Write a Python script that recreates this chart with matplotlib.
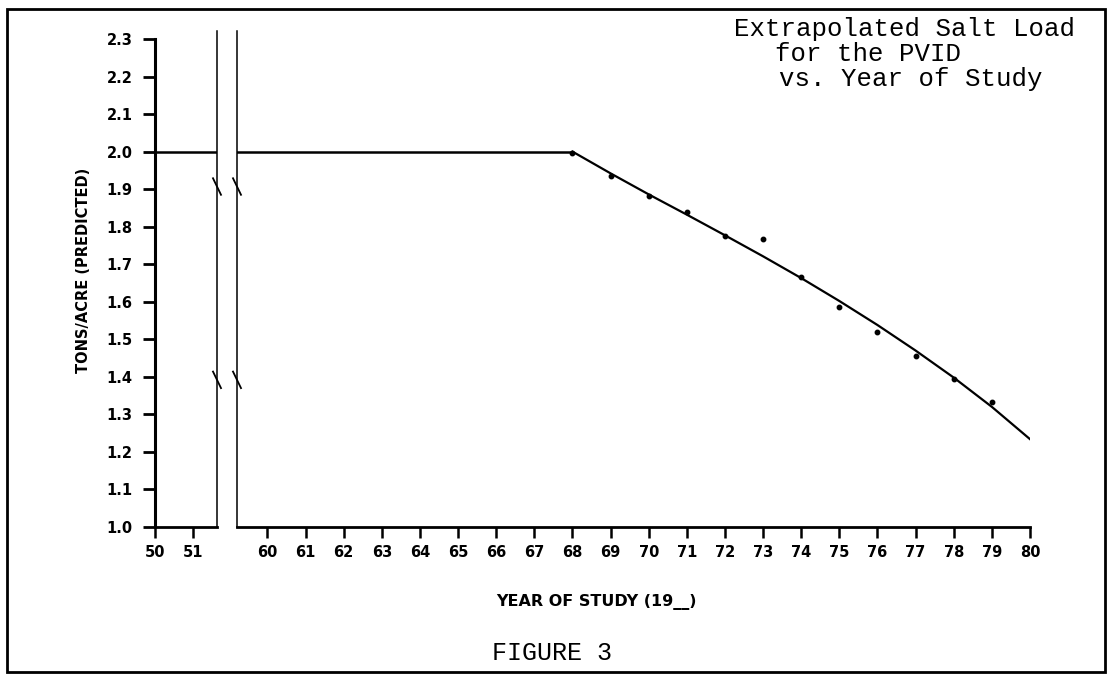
import numpy as np
import matplotlib
matplotlib.use("Agg")
import matplotlib.pyplot as plt
from matplotlib import transforms
from matplotlib.patches import Rectangle

# ---------------- data ----------------
flat_years = [50, 68]
flat_tons = [2.0, 2.0]

curve_years = [68, 69, 70, 71, 72, 73, 74, 75, 76, 77, 78, 79, 80]
curve_tons = [2.0, 1.942, 1.886, 1.832, 1.777, 1.721, 1.663, 1.602, 1.538, 1.470, 1.398, 1.320, 1.234]

obs_years = [68, 69, 70, 71, 72, 73, 74, 75, 76, 77, 78, 79]
obs_tons = [1.995, 1.935, 1.883, 1.840, 1.776, 1.767, 1.665, 1.585, 1.519, 1.456, 1.394, 1.334]

left_ticks = [50, 51]
right_ticks = list(range(60, 81))
y_ticks = [round(1.0 + 0.1 * i, 1) for i in range(14)]

title_lines = ["Extrapolated Salt Load", "for the PVID", "vs. Year of Study"]
x_label = "YEAR OF STUDY (19__)"
y_label = "TONS/ACRE (PREDICTED)"
fig_label = "FIGURE 3"

# ---------------- layout ----------------
W, H = 1110, 676
fig = plt.figure(figsize=(W / 100, H / 100), dpi=100)

def fx(px):
    return px / W

def fy(py):
    return (H - py) / H

ppy = 38.13  # pixels per year
x_axis0, brk1, brk2, x_end = 155, 217, 237, 1030
y_top, y_bot = 39, 527
tick_fs = 10.5

ax1 = fig.add_axes([fx(x_axis0), fy(y_bot), (brk1 - x_axis0) / W, (y_bot - y_top) / H])
ax2 = fig.add_axes([fx(brk2), fy(y_bot), (x_end - brk2) / W, (y_bot - y_top) / H])

ax1.set_xlim(50, 50 + (brk1 - x_axis0) / ppy)
ax2.set_xlim(60 - (267.5 - brk2) / ppy, 80)
for ax in (ax1, ax2):
    ax.set_ylim(1.0, 2.3)
    ax.patch.set_alpha(0)
    for s in ("top", "right"):
        ax.spines[s].set_visible(False)
    ax.spines["bottom"].set_linewidth(2.0)
    ax.tick_params(axis="x", direction="out", length=8, width=1.8, pad=5)

ax2.spines["left"].set_visible(False)
ax2.set_yticks([])
ax1.spines["left"].set_linewidth(2.2)
ax1.set_yticks(y_ticks)
ax1.set_yticklabels([f"{v:.1f}" for v in y_ticks], fontweight="bold", fontsize=tick_fs)
ax1.tick_params(axis="y", direction="out", length=9, width=2.0, pad=7)

ax1.set_xticks(left_ticks)
ax1.set_xticklabels([str(t) for t in left_ticks], fontweight="bold", fontsize=tick_fs)
ax2.set_xticks(right_ticks)
ax2.set_xticklabels([str(t) for t in right_ticks], fontweight="bold", fontsize=tick_fs)

# flat predicted level
for ax in (ax1, ax2):
    ax.plot(flat_years, flat_tons, color="black", lw=1.8, solid_capstyle="butt")

# predicted curve and observations
ax2.plot(curve_years, curve_tons, color="black", lw=1.6)
ax2.plot(obs_years, obs_tons, "o", color="black", markersize=3.2)

# break lines with squiggles
for ax, xa in ((ax1, 1.0), (ax2, 0.0)):
    tr = transforms.blended_transform_factory(ax.transAxes, ax.transData)
    ax.plot([xa, xa], [1.0, 2.32], color="black", lw=1.1, transform=tr, clip_on=False)
    wpx = ax.get_position().width * W
    dx = 4.0 / wpx
    for yv in (1.907, 1.392):
        ax.plot([xa - dx, xa + dx], [yv + 0.022, yv - 0.022], color="black", lw=1.3,
                transform=tr, clip_on=False)

# axis labels
fig.text(fx(596), fy(602), x_label, ha="center", va="center",
         fontsize=11.5, fontweight="bold")
fig.text(fx(84), fy(270), y_label, ha="center", va="center", rotation=90,
         fontsize=10.5, fontweight="bold")

# title
title_centers = [905, 868, 911]
title_baselines = [36, 61, 86]
for line, cx, by in zip(title_lines, title_centers, title_baselines):
    fig.text(fx(cx), fy(by), line, ha="center", va="baseline",
             family="Liberation Mono", fontsize=18.5)

fig.text(fx(552), fy(660), fig_label, ha="center", va="baseline",
         family="Liberation Mono", fontsize=18)

# outer frame
fig.patches.append(Rectangle((fx(7), fy(672)), (1105 - 7) / W, (672 - 9) / H,
                             transform=fig.transFigure, fill=False,
                             edgecolor="black", lw=2.0))

fig.savefig("out.png", dpi=100)
